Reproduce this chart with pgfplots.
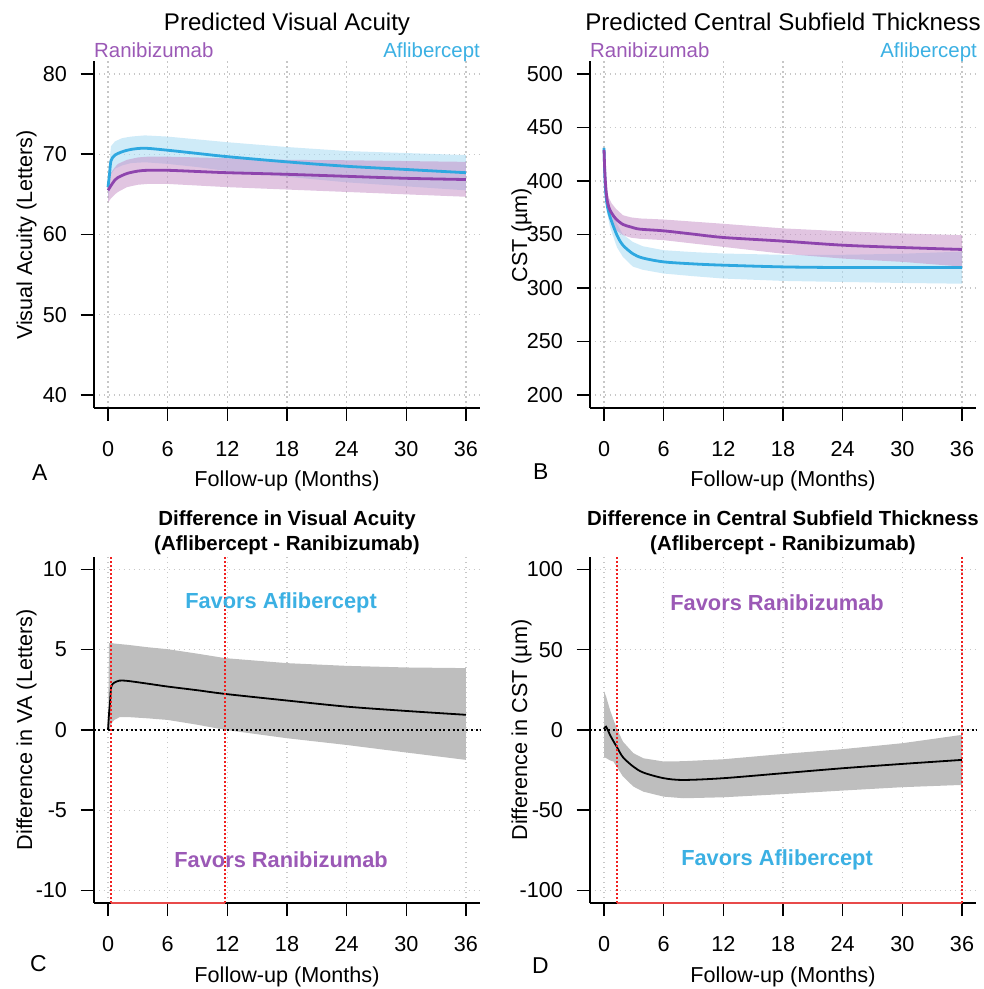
\documentclass[border=0pt]{standalone}
\usepackage{fontspec}
\setmainfont{Liberation Sans}
\usepackage{pgfplots}
\usepackage{pgfplotstable}
\pgfplotsset{compat=1.18}
\usepgfplotslibrary{fillbetween}

\definecolor{ranline}{HTML}{8E44AD}
\definecolor{afline}{HTML}{2EA8E0}
\definecolor{rantext}{HTML}{9B59B6}
\definecolor{aftext}{HTML}{3BB0E3}
\definecolor{ranband}{HTML}{C38BC4}
\definecolor{afband}{HTML}{A8DAF3}
\definecolor{ciband}{HTML}{BEBEBE}
\definecolor{sigred}{HTML}{F02020}
\definecolor{sigbar}{HTML}{E84A4A}

% panel A: predicted VA
\pgfplotstableread{
m     lo    mid   hi
0.0   64.0  65.5  67.0
0.3   64.5  66.1  67.7
0.7   65.0  66.8  68.4
1.0   65.3  67.1  68.8
1.9   65.9  67.6  69.3
3.0   66.2  67.9  69.6
4.0   66.3  68.0  69.7
6.0   66.3  68.0  69.7
9.0   66.1  67.85 69.6
12.0  65.9  67.7  69.5
18.0  65.6  67.5  69.3
24.0  65.3  67.25 69.25
30.0  65.0  67.0  69.15
36.0  64.7  66.85 69.05
}\ranVA
\pgfplotstableread{
m     lo    mid   hi
0.0   64.3  65.9  67.5
0.15  65.9  67.5  69.1
0.3   67.5  69.2  71.0
0.7   68.2  69.9  71.6
1.4   68.6  70.3  72.0
2.3   68.9  70.6  72.2
3.7   69.0  70.75 72.35
6.0   68.8  70.5  72.2
9.0   68.4  70.1  71.85
12.0  67.9  69.7  71.5
18.0  67.2  69.05 70.9
24.0  66.5  68.5  70.4
30.0  66.0  68.1  70.15
36.0  65.5  67.7  69.9
}\afVA
% panel B: predicted CST
\pgfplotstableread{
m     lo     mid    hi
0.0   426    429    432
0.1   400    405    410
0.27  378    385    392
0.5   365    375    384
0.77  360    370    379
1.2   354    364.5  374
1.9   349.4  359.4  368
2.7   347    357    366
3.6   346    355    365
6.0   344.7  353.4  364
9.0   341.5  350.3  362
12.0  338.4  347.2  360
18.0  332    343.8  355.7
24.0  327.5  340    353
30.0  324.4  337.8  351
36.0  320    336    349.4
}\ranCST
\pgfplotstableread{
m     lo     mid    hi
0.0   427    431    434
0.1   395    400    406
0.27  372    380    388
0.6   357    366.6  376
1.3   338    349.4  360
1.9   329    340    350
2.9   320    332    343
3.9   317    328    339
6.0   313.5  324.4  335.3
9.0   311    322.5  333.5
12.0  308.8  321.3  332.2
18.0  306.6  319.7  331
24.0  305.6  319.1  331
30.0  304.7  319.1  332
36.0  304    319.1  334
}\afCST
% panel C: VA difference
\pgfplotstableread{
m     lo     mid    hi
0.0   0.0    0.0    0.0
0.1   -0.1   1.0    5.4
0.2   0.15   1.7    5.4
0.3   0.3    2.6    5.4
0.45  0.5    2.85   5.4
0.64  0.62   2.95   5.38
1.15  0.79   3.07   5.35
2.0   0.8    3.05   5.3
4.0   0.72   2.88   5.15
6.0   0.62   2.7    5.03
9.0   0.32   2.47   4.75
11.8  0.0    2.24   4.47
18.0  -0.52  1.83   4.16
24.0  -0.94  1.45   3.99
30.0  -1.41  1.18   3.89
36.0  -1.87  0.94   3.85
}\diffVA
% panel D: CST difference
\pgfplotstableread{
m     lo     mid    hi
0.0   -17    0.5    24
0.2   -17.5  2.0    21
0.6   -19    -3.1   12.5
0.94  -19.7  -7.0   6.5
1.27  -22.9  -10.4  1.0
1.9   -29    -17    -7.3
2.95  -35.3  -22.9  -14.5
3.96  -38.5  -26.6  -17.7
6.0   -41.6  -30.1  -19.7
8.0   -42.6  -31.2  -19.5
12.0  -42    -30.1  -18.3
18.0  -40    -27    -15
24.0  -37.8  -23.9  -12
30.0  -35.7  -21.2  -8.3
36.0  -34.3  -18.7  -3.1
}\diffCST

\newcommand\tickfont{\fontsize{21.7}{26}\selectfont}
\newcommand\labfont{\fontsize{21.7}{26}\selectfont}
\newcommand\hdrfont{\fontsize{20.5}{24}\selectfont}
\newcommand\ttlfont{\fontsize{24.2}{29}\selectfont}
\newcommand\bttlfont{\fontsize{20.5}{24}\selectfont\bfseries}
\newcommand\favfont{\fontsize{21.9}{26}\selectfont\bfseries}
\newcommand\letfont{\fontsize{23}{27}\selectfont}

\pgfplotsset{
  rstyle/.style={
    scale only axis, width=386.6bp, height=346.6bp,
    anchor=south west,
    axis lines=left,
    axis line style={-, line width=1.6bp, black},
    xmin=-1.44, xmax=37.44,
    xtick={0,6,12,18,24,30,36},
    xticklabels={0,6,12,18,24,30,36},
    tick align=outside,
    major tick length=13bp,
    tick style={line width=1.6bp, black},
    grid=major,
    major grid style={black!22, line width=1.2bp, dash pattern=on 1.6bp off 3.4bp},
    ticklabel style={font=\tickfont},
    xticklabel style={anchor=base, yshift=-35.5bp},
    yticklabel style={anchor=east, inner sep=0pt, xshift=-13.5bp},
    clip=false,
  },
  band/.style={draw=none, forget plot},
  sigline/.style={sigred, line width=2bp, dash pattern=on 2bp off 2bp},
}

\begin{document}
\begin{tikzpicture}[x=1bp,y=1bp]
\path (0,0) rectangle (983,989);

% ---------- A ----------
\begin{axis}[rstyle, at={(93.7bp,581.2bp)},
  ymin=38.4, ymax=81.6, ytick={40,50,60,70,80}, yticklabels={40,50,60,70,80}]
\addplot[band, name path=aU] table[x=m,y=hi]{\afVA};
\addplot[band, name path=aL] table[x=m,y=lo]{\afVA};
\addplot[afband, fill opacity=0.55, draw=none] fill between[of=aU and aL];
\addplot[afline, line width=2.8bp, smooth] table[x=m,y=mid]{\afVA};
\addplot[band, name path=rU] table[x=m,y=hi]{\ranVA};
\addplot[band, name path=rL] table[x=m,y=lo]{\ranVA};
\addplot[ranband, fill opacity=0.5, draw=none] fill between[of=rU and rL];
\addplot[ranline, line width=2.8bp, smooth] table[x=m,y=mid]{\ranVA};
\end{axis}

% ---------- B ----------
\begin{axis}[rstyle, at={(589.7bp,581.2bp)},
  ymin=188, ymax=512, ytick={200,250,300,350,400,450,500},
  yticklabels={200,250,300,350,400,450,500}]
\addplot[band, name path=aU] table[x=m,y=hi]{\afCST};
\addplot[band, name path=aL] table[x=m,y=lo]{\afCST};
\addplot[afband, fill opacity=0.55, draw=none] fill between[of=aU and aL];
\addplot[afline, line width=2.8bp, smooth] table[x=m,y=mid]{\afCST};
\addplot[band, name path=rU] table[x=m,y=hi]{\ranCST};
\addplot[band, name path=rL] table[x=m,y=lo]{\ranCST};
\addplot[ranband, fill opacity=0.5, draw=none] fill between[of=rU and rL];
\addplot[ranline, line width=2.8bp, smooth] table[x=m,y=mid]{\ranCST};
\end{axis}

% ---------- C ----------
\begin{axis}[rstyle, at={(93.7bp,85.8bp)},
  ymin=-10.8, ymax=10.8, ytick={-10,-5,0,5,10}, yticklabels={-10,-5,0,5,10}]
\addplot[band, name path=dU] table[x=m,y=hi]{\diffVA};
\addplot[band, name path=dL] table[x=m,y=lo]{\diffVA};
\addplot[ciband, draw=none] fill between[of=dU and dL];
\addplot[black, line width=1.8bp, smooth] table[x=m,y=mid]{\diffVA};
\addplot[black, line width=1.8bp, dash pattern=on 2bp off 2.6bp] coordinates {(-1.44,0) (37.44,0)};
\addplot[sigline] coordinates {(0.3,-10.8) (0.3,10.8)};
\addplot[sigline] coordinates {(11.8,-10.8) (11.8,10.8)};
\addplot[sigbar, line width=2bp] coordinates {(0.3,-10.8) (11.8,-10.8)};
\node[anchor=base, font=\favfont, text=aftext] at (axis cs:17.4,7.55) {Favors Aflibercept};
\node[anchor=base, font=\favfont, text=rantext] at (axis cs:17.4,-8.57) {Favors Ranibizumab};
\end{axis}

% ---------- D ----------
\begin{axis}[rstyle, at={(589.7bp,85.8bp)},
  ymin=-108, ymax=108, ytick={-100,-50,0,50,100}, yticklabels={-100,-50,0,50,100}]
\addplot[band, name path=dU] table[x=m,y=hi]{\diffCST};
\addplot[band, name path=dL] table[x=m,y=lo]{\diffCST};
\addplot[ciband, draw=none] fill between[of=dU and dL];
\addplot[black, line width=1.8bp, smooth] table[x=m,y=mid]{\diffCST};
\addplot[black, line width=1.8bp, dash pattern=on 2bp off 2.6bp] coordinates {(-1.44,0) (37.44,0)};
\addplot[sigline] coordinates {(1.35,-108) (1.35,108)};
\addplot[sigline] coordinates {(36,-108) (36,108)};
\addplot[sigbar, line width=2bp] coordinates {(1.35,-108) (36,-108)};
\node[anchor=base, font=\favfont, text=rantext] at (axis cs:17.4,74.5) {Favors Ranibizumab};
\node[anchor=base, font=\favfont, text=aftext] at (axis cs:17.4,-84.8) {Favors Aflibercept};
\end{axis}

% titles and headers
\node[anchor=base, font=\ttlfont] at (287,958.4) {Predicted Visual Acuity};
\node[anchor=base, font=\ttlfont] at (783,958.4) {Predicted Central Subfield Thickness};
\node[anchor=base west, inner sep=0pt, font=\hdrfont, text=rantext] at (94,931.6) {Ranibizumab};
\node[anchor=base east, inner sep=0pt, font=\hdrfont, text=aftext] at (480,931.6) {Aflibercept};
\node[anchor=base west, inner sep=0pt, font=\hdrfont, text=rantext] at (590,931.6) {Ranibizumab};
\node[anchor=base east, inner sep=0pt, font=\hdrfont, text=aftext] at (977,931.6) {Aflibercept};
\node[anchor=base, font=\bttlfont] at (287,463) {Difference in Visual Acuity};
\node[anchor=base, font=\bttlfont] at (287,438) {(Aflibercept - Ranibizumab)};
\node[anchor=base, font=\bttlfont] at (783,463) {Difference in Central Subfield Thickness};
\node[anchor=base, font=\bttlfont] at (783,438) {(Aflibercept - Ranibizumab)};

% axis labels
\node[anchor=base, rotate=90, inner sep=0pt, font=\labfont] at (32,754) {Visual Acuity (Letters)};
\node[anchor=base, rotate=90, inner sep=0pt, font=\labfont] at (527,754) {CST (µm)};
\node[anchor=base, rotate=90, inner sep=0pt, font=\labfont] at (32,259) {Difference in VA (Letters)};
\node[anchor=base, rotate=90, inner sep=0pt, font=\labfont] at (527,259) {Difference in CST (µm)};
\node[anchor=base, inner sep=0pt, font=\labfont] at (287,502) {Follow-up (Months)};
\node[anchor=base, inner sep=0pt, font=\labfont] at (783,502) {Follow-up (Months)};
\node[anchor=base, inner sep=0pt, font=\labfont] at (287,6) {Follow-up (Months)};
\node[anchor=base, inner sep=0pt, font=\labfont] at (783,6) {Follow-up (Months)};

% panel letters
\node[anchor=base west, inner sep=0pt, font=\letfont] at (32,508) {A};
\node[anchor=base west, inner sep=0pt, font=\letfont] at (533,509) {B};
\node[anchor=base west, inner sep=0pt, font=\letfont] at (30,17) {C};
\node[anchor=base west, inner sep=0pt, font=\letfont] at (532,15) {D};
\end{tikzpicture}
\end{document}
